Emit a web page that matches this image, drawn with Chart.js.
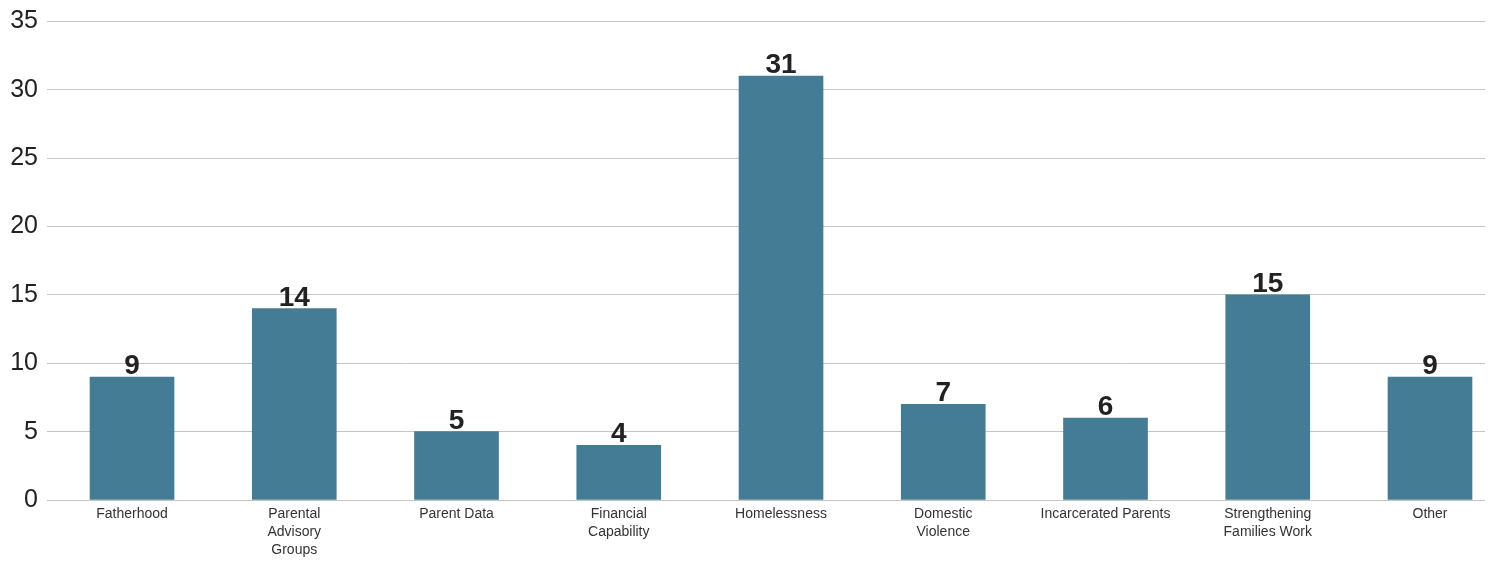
<!DOCTYPE html>
<html>
<head>
<meta charset="utf-8">
<script src="https://cdn.jsdelivr.net/npm/chart.js@4.4.0/dist/chart.umd.min.js"></script>
<style>
  body { margin: 0; background: #fff; }
</style>
</head>
<body>
<canvas id="topicChart" width="1493" height="561"></canvas>
<script>
//Chart data
const categories = [
    ['Fatherhood'],
    ['Parental', 'Advisory', 'Groups'],
    ['Parent Data'],
    ['Financial', 'Capability'],
    ['Homelessness'],
    ['Domestic', 'Violence'],
    ['Incarcerated Parents'],
    ['Strengthening', 'Families Work'],
    ['Other']
];
const counts = [9, 14, 5, 4, 31, 7, 6, 15, 9];
const yTicks = [0, 5, 10, 15, 20, 25, 30, 35];

const BAR_COLOR = '#437c94';
const FONT = "'Liberation Sans', Arial, Helvetica, sans-serif";

//Draws the count above each bar
const barValues = {
    id: 'barValues',
    afterDatasetsDraw(chart) {
        const ctx = chart.ctx;
        const meta = chart.getDatasetMeta(0);
        ctx.save();
        ctx.font = 'bold 28px ' + FONT;
        ctx.fillStyle = '#222';
        ctx.textAlign = 'center';
        ctx.textBaseline = 'alphabetic';
        meta.data.forEach((bar, i) => {
            ctx.fillText(counts[i], bar.x, bar.y - 3);
        });
        ctx.restore();
    }
};

new Chart(document.getElementById('topicChart'), {
    type: 'bar',
    data: {
        datasets: [{
            data: counts.map((v, i) => ({ x: i, y: v })),
            backgroundColor: BAR_COLOR,
            barThickness: 84
        }]
    },
    options: {
        responsive: false,
        animation: false,
        layout: { padding: { top: 20, right: 8, left: 0, bottom: 0 } },
        plugins: {
            legend: { display: false },
            tooltip: { enabled: false }
        },
        scales: {
            x: {
                type: 'linear',
                offset: false,
                min: -0.524,
                max: 8.339,
                afterBuildTicks: (scale) => {
                    scale.ticks = categories.map((c, i) => ({ value: i }));
                },
                afterFit: (scale) => { scale.height = 61; },
                grid: { display: false, drawTicks: false },
                border: { display: false },
                ticks: {
                    autoSkip: false,
                    maxRotation: 0,
                    padding: 5,
                    color: '#333',
                    font: { family: FONT, size: 14, lineHeight: 1.28 },
                    callback: (value) => categories[value]
                }
            },
            y: {
                min: 0,
                max: 35,
                afterBuildTicks: (scale) => {
                    scale.ticks = yTicks.map(v => ({ value: v }));
                },
                afterFit: (scale) => { scale.width = 47; },
                grid: { color: '#c4c4c4', lineWidth: 1, drawTicks: false },
                border: { display: false },
                ticks: {
                    padding: 9,
                    color: '#222',
                    font: { family: FONT, size: 25, lineHeight: 1 }
                }
            }
        }
    },
    plugins: [barValues]
});
</script>
</body>
</html>
